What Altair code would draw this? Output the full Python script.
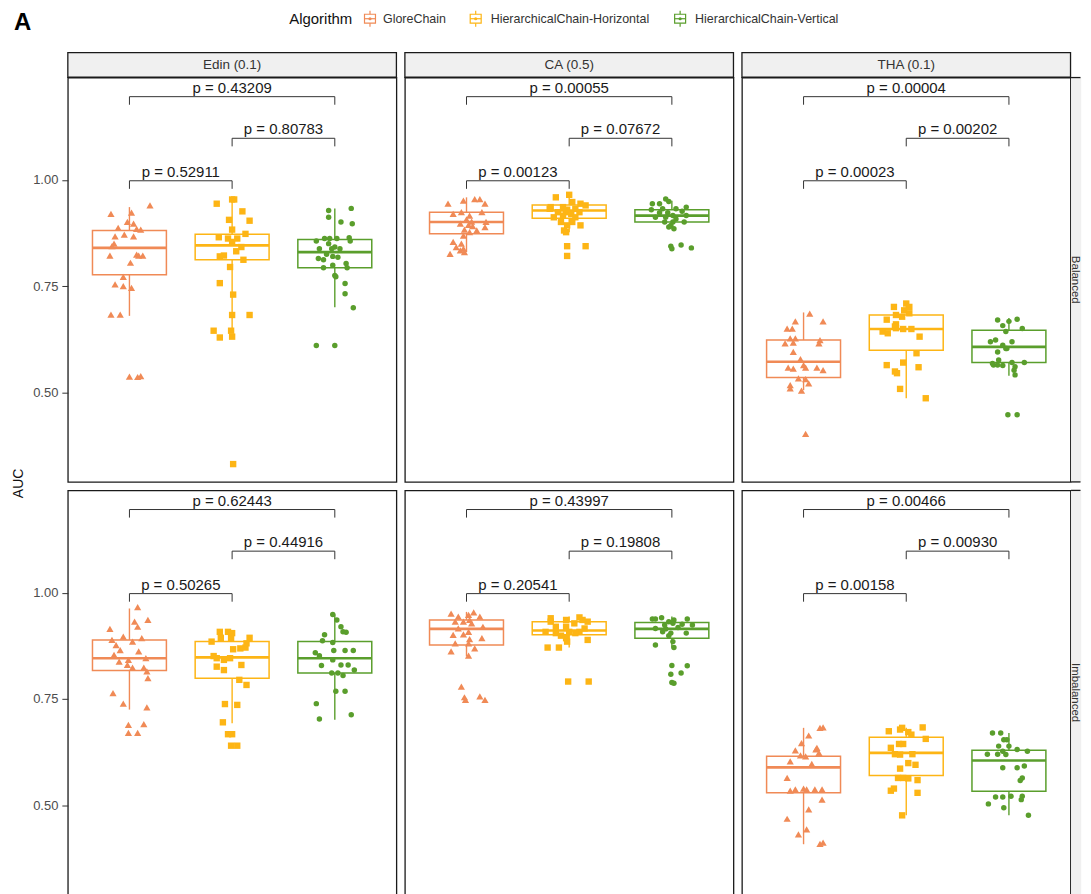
import altair as alt
import pandas as pd

ALGORITHMS = ["GloreChain", "HierarchicalChain-Horizontal", "HierarchicalChain-Vertical"]
DATASETS = ["Edin (0.1)", "CA (0.5)", "THA (0.1)"]
SETTINGS = ["Balanced", "Imbalanced"]
COLORS = ["#F08A56", "#FDB515", "#5A9E2C"]
SHAPES = ["triangle-up", "square", "circle"]
POSITIONS = [1, 2, 3]

# ---- AUC of each run and its horizontal jitter (category units)
EDIN_BAL_G = [0.920,0.923,0.940,0.901,0.897,0.887,0.871,0.885,0.883,0.867,0.867,0.844,0.850,0.822,0.824,0.822,0.822,0.805,0.772,0.754,0.750,0.746,0.683,0.683,0.537,0.536,0.538]
EDIN_BAL_G_JIT = [-0.18,0.02,0.20,-0.02,0.04,-0.11,-0.05,0.07,0.11,-0.14,0.04,-0.17,-0.15,-0.19,0.07,0.13,0.09,0.01,-0.06,-0.14,-0.06,0.02,-0.18,-0.09,0.00,0.08,0.11]
EDIN_BAL_H = [0.954,0.944,0.926,0.904,0.906,0.883,0.873,0.865,0.862,0.862,0.854,0.842,0.820,0.822,0.832,0.812,0.795,0.757,0.730,0.682,0.682,0.645,0.629,0.645,0.631,0.331,0.954]
EDIN_BAL_H_JIT = [0.00,-0.15,0.10,0.17,-0.03,0.00,0.13,-0.13,-0.04,0.05,0.00,0.09,-0.12,-0.08,0.04,0.11,-0.02,-0.12,0.01,0.00,0.17,-0.18,-0.12,-0.01,0.00,0.01,0.02]
EDIN_BAL_V = [0.928,0.912,0.933,0.901,0.897,0.856,0.862,0.862,0.862,0.864,0.856,0.850,0.842,0.838,0.838,0.838,0.825,0.815,0.812,0.820,0.818,0.799,0.803,0.793,0.793,0.775,0.772,0.756,0.732,0.699,0.610,0.610]
EDIN_BAL_V_JIT = [-0.06,-0.06,0.16,0.06,0.17,-0.18,-0.10,-0.05,0.02,0.14,0.15,-0.06,0.00,-0.03,-0.15,0.05,-0.08,-0.16,-0.11,-0.02,0.03,-0.02,0.11,-0.11,0.12,0.00,0.01,0.10,0.10,0.18,-0.18,0.00]

CA_BAL_G = [0.944,0.951,0.955,0.955,0.944,0.920,0.924,0.916,0.924,0.907,0.902,0.897,0.901,0.889,0.883,0.881,0.877,0.869,0.854,0.850,0.838,0.826,0.834,0.830,0.842,0.891,0.894]
CA_BAL_G_JIT = [-0.18,-0.03,0.08,0.13,0.18,-0.13,-0.05,0.03,0.15,0.00,0.05,-0.06,0.19,0.18,-0.02,0.10,0.03,-0.03,-0.13,-0.05,-0.03,-0.16,-0.06,-0.02,-0.10,0.06,0.02]
CA_BAL_H = [0.959,0.965,0.948,0.944,0.940,0.936,0.936,0.930,0.932,0.924,0.924,0.920,0.912,0.916,0.912,0.901,0.901,0.893,0.893,0.877,0.881,0.844,0.844,0.821,0.932,0.924]
CA_BAL_H_JIT = [-0.13,0.00,0.03,0.11,0.16,-0.18,-0.06,-0.02,0.06,-0.11,-0.03,0.02,-0.15,-0.06,0.06,-0.08,0.03,0.11,-0.02,-0.03,-0.05,-0.02,0.16,-0.02,-0.19,0.10]
CA_BAL_V = [0.944,0.944,0.955,0.949,0.930,0.932,0.932,0.936,0.923,0.923,0.926,0.912,0.912,0.916,0.916,0.901,0.901,0.901,0.908,0.893,0.885,0.889,0.844,0.847,0.840,0.838]
CA_BAL_V_JIT = [-0.19,-0.12,-0.06,-0.03,-0.20,-0.09,0.04,0.14,-0.12,-0.04,0.10,-0.16,-0.06,0.01,0.14,-0.07,0.01,0.12,0.04,-0.01,0.02,-0.03,-0.01,0.09,0.19,0.00]

THA_BAL_G = [0.685,0.667,0.667,0.650,0.650,0.627,0.627,0.615,0.617,0.623,0.615,0.595,0.578,0.558,0.556,0.558,0.564,0.558,0.552,0.533,0.531,0.521,0.517,0.509,0.504,0.402]
THA_BAL_G_JIT = [0.06,0.19,-0.08,-0.16,-0.11,-0.13,-0.08,-0.18,-0.10,0.16,0.15,-0.10,-0.03,-0.15,-0.10,0.02,0.00,0.13,0.19,-0.05,0.02,0.05,-0.13,-0.13,-0.02,0.02]
THA_BAL_H = [0.701,0.709,0.701,0.671,0.682,0.678,0.693,0.686,0.660,0.643,0.639,0.655,0.649,0.649,0.631,0.592,0.570,0.559,0.564,0.549,0.545,0.508,0.486,0.651]
THA_BAL_H_JIT = [-0.12,0.00,0.03,-0.19,-0.10,-0.04,-0.02,0.03,-0.10,-0.23,-0.18,-0.11,-0.03,0.05,0.13,0.10,-0.03,0.12,-0.19,-0.11,-0.09,-0.06,0.19,-0.10]
THA_BAL_V = [0.670,0.667,0.672,0.657,0.650,0.643,0.619,0.623,0.611,0.619,0.603,0.595,0.603,0.570,0.564,0.563,0.570,0.560,0.552,0.564,0.568,0.541,0.447,0.447,0.576]
THA_BAL_V_JIT = [-0.11,0.00,0.08,-0.06,0.13,-0.03,-0.18,-0.13,-0.06,0.03,-0.02,-0.11,-0.03,0.15,-0.15,-0.06,0.03,0.06,0.05,-0.11,-0.16,0.06,-0.01,0.08,-0.10]

EDIN_IMB_G = [0.966,0.932,0.936,0.920,0.915,0.889,0.897,0.885,0.893,0.877,0.865,0.862,0.854,0.846,0.842,0.838,0.830,0.824,0.824,0.815,0.799,0.764,0.739,0.730,0.691,0.689,0.670,0.670]
EDIN_IMB_G_JIT = [0.08,0.05,0.18,0.08,-0.19,-0.17,-0.06,0.03,0.12,-0.13,-0.09,0.09,-0.15,0.16,-0.01,-0.10,-0.02,0.03,0.14,0.17,0.18,-0.16,-0.06,0.17,0.14,-0.01,-0.01,0.08]
EDIN_IMB_H = [0.908,0.908,0.905,0.885,0.894,0.893,0.894,0.867,0.869,0.871,0.881,0.851,0.846,0.842,0.846,0.830,0.826,0.818,0.795,0.783,0.738,0.736,0.695,0.667,0.667,0.640,0.640]
EDIN_IMB_H_JIT = [-0.12,-0.04,0.00,-0.20,-0.11,-0.01,0.17,0.01,0.08,0.13,0.14,-0.18,-0.15,-0.08,-0.02,0.09,-0.15,-0.08,0.07,0.14,-0.07,0.05,-0.09,-0.04,0.00,-0.01,0.05]
EDIN_IMB_V = [0.949,0.936,0.920,0.908,0.907,0.901,0.887,0.883,0.859,0.852,0.864,0.864,0.864,0.842,0.829,0.830,0.830,0.818,0.811,0.811,0.805,0.768,0.768,0.739,0.713,0.703]
EDIN_IMB_V_JIT = [-0.02,0.02,0.06,0.08,0.11,-0.10,-0.12,-0.02,-0.19,-0.15,-0.01,0.10,0.18,-0.02,-0.13,0.06,0.13,0.19,-0.03,0.03,0.08,0.01,0.10,-0.18,0.16,-0.15]

CA_IMB_G = [0.951,0.944,0.948,0.954,0.944,0.932,0.932,0.936,0.920,0.916,0.908,0.901,0.902,0.891,0.893,0.881,0.881,0.869,0.862,0.852,0.779,0.754,0.748,0.756,0.748,0.928]
CA_IMB_G_JIT = [-0.15,-0.08,0.02,0.07,0.13,-0.11,-0.03,0.03,0.16,-0.08,0.02,-0.13,-0.03,0.03,0.15,-0.11,0.02,0.08,-0.15,0.02,-0.05,-0.02,-0.01,0.13,0.18,0.05]
CA_IMB_H = [0.940,0.936,0.942,0.936,0.932,0.920,0.920,0.928,0.916,0.908,0.905,0.908,0.908,0.899,0.893,0.889,0.871,0.871,0.885,0.905,0.791,0.791,0.932]
CA_IMB_H_JIT = [-0.18,-0.03,0.10,0.13,0.18,-0.13,-0.03,0.05,0.15,-0.23,-0.13,0.00,0.10,-0.08,-0.03,0.18,-0.21,-0.10,-0.02,0.06,-0.01,0.19,-0.18]
CA_IMB_V = [0.938,0.938,0.941,0.932,0.936,0.938,0.924,0.928,0.926,0.916,0.915,0.918,0.924,0.908,0.905,0.905,0.899,0.877,0.885,0.871,0.829,0.828,0.811,0.808,0.789,0.787]
CA_IMB_V_JIT = [-0.19,-0.16,-0.10,-0.03,0.02,0.15,-0.07,0.01,0.10,-0.16,-0.06,0.06,0.20,-0.09,-0.01,0.14,-0.03,-0.16,0.01,0.02,0.00,0.15,0.09,-0.01,0.00,0.02]

THA_IMB_G = [0.682,0.683,0.664,0.646,0.629,0.631,0.623,0.617,0.615,0.603,0.597,0.564,0.534,0.537,0.539,0.537,0.537,0.537,0.513,0.490,0.468,0.443,0.431,0.409,0.412,0.635]
THA_IMB_G_JIT = [0.16,0.19,0.05,-0.02,-0.08,0.12,0.15,-0.03,0.02,-0.13,0.08,-0.16,-0.13,-0.08,0.00,0.03,0.11,0.18,0.18,0.05,-0.16,0.03,-0.05,0.16,0.19,0.13]
THA_IMB_H = [0.674,0.678,0.682,0.672,0.666,0.683,0.656,0.644,0.644,0.635,0.620,0.619,0.620,0.599,0.595,0.586,0.564,0.564,0.563,0.559,0.534,0.539,0.529,0.476]
THA_IMB_H_JIT = [-0.17,-0.06,-0.04,0.02,0.05,0.16,0.19,-0.07,-0.03,-0.15,-0.11,-0.06,0.06,0.02,0.09,-0.06,-0.03,-0.08,0.02,0.11,-0.15,-0.12,0.11,-0.04]
THA_IMB_V = [0.670,0.670,0.654,0.654,0.639,0.639,0.627,0.631,0.627,0.620,0.619,0.620,0.588,0.588,0.592,0.564,0.558,0.519,0.519,0.521,0.521,0.513,0.503,0.494,0.476]
THA_IMB_V_JIT = [-0.16,-0.08,-0.05,-0.02,-0.10,0.00,-0.06,0.08,0.18,-0.11,-0.03,-0.21,-0.06,0.08,0.15,0.13,0.11,-0.13,-0.06,0.02,0.13,0.12,-0.20,-0.05,0.19]

# ---- box statistics, order: setting x dataset x algorithm
BOX_LOWER  = [0.680,0.642,0.700, 0.830,0.877,0.885, 0.505,0.486,0.539, 0.725,0.693,0.701, 0.850,0.871,0.871, 0.408,0.476,0.476]
BOX_Q1     = [0.777,0.812,0.793, 0.873,0.910,0.901, 0.535,0.599,0.570, 0.817,0.799,0.811, 0.877,0.901,0.893, 0.529,0.570,0.533]
BOX_MEDIAN = [0.840,0.846,0.830, 0.901,0.928,0.916, 0.572,0.649,0.607, 0.846,0.848,0.846, 0.915,0.911,0.915, 0.589,0.623,0.605]
BOX_Q3     = [0.881,0.872,0.860, 0.924,0.941,0.930, 0.623,0.682,0.646, 0.889,0.885,0.885, 0.936,0.932,0.930, 0.615,0.660,0.629]
BOX_UPPER  = [0.936,0.955,0.933, 0.959,0.965,0.951, 0.688,0.705,0.675, 0.963,0.908,0.949, 0.955,0.944,0.944, 0.682,0.682,0.670]

# ---- pairwise comparisons: (first, second, bracket height); p labels ordered setting x dataset x comparison
COMPARISONS = [(1, 3, 1.196), (2, 3, 1.098), (1, 2, 0.998)]
P_VALUES = ["p = 0.43209", "p = 0.80783", "p = 0.52911",
            "p = 0.00055", "p = 0.07672", "p = 0.00123",
            "p = 0.00004", "p = 0.00202", "p = 0.00023",
            "p = 0.62443", "p = 0.44916", "p = 0.50265",
            "p = 0.43997", "p = 0.19808", "p = 0.20541",
            "p = 0.00466", "p = 0.00930", "p = 0.00158"]

SERIES = {
    ("Balanced", "Edin (0.1)"): [(EDIN_BAL_G, EDIN_BAL_G_JIT), (EDIN_BAL_H, EDIN_BAL_H_JIT), (EDIN_BAL_V, EDIN_BAL_V_JIT)],
    ("Balanced", "CA (0.5)"): [(CA_BAL_G, CA_BAL_G_JIT), (CA_BAL_H, CA_BAL_H_JIT), (CA_BAL_V, CA_BAL_V_JIT)],
    ("Balanced", "THA (0.1)"): [(THA_BAL_G, THA_BAL_G_JIT), (THA_BAL_H, THA_BAL_H_JIT), (THA_BAL_V, THA_BAL_V_JIT)],
    ("Imbalanced", "Edin (0.1)"): [(EDIN_IMB_G, EDIN_IMB_G_JIT), (EDIN_IMB_H, EDIN_IMB_H_JIT), (EDIN_IMB_V, EDIN_IMB_V_JIT)],
    ("Imbalanced", "CA (0.5)"): [(CA_IMB_G, CA_IMB_G_JIT), (CA_IMB_H, CA_IMB_H_JIT), (CA_IMB_V, CA_IMB_V_JIT)],
    ("Imbalanced", "THA (0.1)"): [(THA_IMB_G, THA_IMB_G_JIT), (THA_IMB_H, THA_IMB_H_JIT), (THA_IMB_V, THA_IMB_V_JIT)],
}

# ---- legend / panel-tag placement (pixels, relative to the first strip's top-left corner)
TAG_X, TAG_Y = -54, -42
LEGEND_TITLE_X = 222
LEGEND_GLYPH_X = [303, 409, 614]
LEGEND_LABEL_X = [316, 424, 629]
LEGEND_Y = -34

# ---- tables
pt_rows, box_rows, br_rows = [], [], []
i = 0
for si, st in enumerate(SETTINGS):
    for di, ds in enumerate(DATASETS):
        for ai, algo in enumerate(ALGORITHMS):
            vals, jit = SERIES[(st, ds)][ai]
            for v, j in zip(vals, jit):
                pt_rows.append(dict(setting=st, dataset=ds, algo=algo, pos=POSITIONS[ai], auc=v, jit=j))
            box_rows.append(dict(setting=st, dataset=ds, algo=algo, pos=POSITIONS[ai],
                                 lo=BOX_LOWER[i], q1=BOX_Q1[i], med=BOX_MEDIAN[i], q3=BOX_Q3[i], hi=BOX_UPPER[i]))
            i += 1
        for ci, (a, b, h) in enumerate(COMPARISONS):
            br_rows.append(dict(setting=st, dataset=ds, x1=a, x2=b, y=h,
                                label=P_VALUES[(si * 3 + di) * 3 + ci]))
points = pd.DataFrame(pt_rows)
boxes = pd.DataFrame(box_rows)
brackets = pd.DataFrame(br_rows)
legend_df = pd.DataFrame({"algo": ALGORITHMS, "gx": LEGEND_GLYPH_X, "lx": LEGEND_LABEL_X})

# ---- layout / style
W, H = 329.5, 405.5
STRIP = 16.7      # strip cell height (strip drawn 8px taller, over the spacing)
SIDE = 1.5
GAP = 8
HALF = 0.36       # half box width in category units
TICK = 0.019      # bracket tick length
FONT = "Liberation Sans"
INK = "#333333"
STRIP_FILL = "#F0F0F0"
BORDER = "#1A1A1A"

XS = alt.Scale(domain=[0.4, 3.6], nice=False, zero=False)
YS = alt.Scale(domain=[0.289, 1.241], nice=False, zero=False)
CS = alt.Scale(domain=ALGORITHMS, range=COLORS)
COL = alt.Color("algo:N", scale=CS, legend=None)


def panel(si, di):
    st, ds = SETTINGS[si], DATASETS[di]
    b = boxes[(boxes.setting == st) & (boxes.dataset == ds)]
    p = points[(points.setting == st) & (points.dataset == ds)]
    k = brackets[(brackets.setting == st) & (brackets.dataset == ds)]

    if di == 0:
        if si == 0:
            yax = alt.Axis(values=[0.5, 0.75, 1.0], format=".2f", title="AUC",
                           titleX=-42, titleY=H + 1, titleFontSize=14,
                           titleFontWeight="normal", titleColor="#111111", titleFont=FONT)
        else:
            yax = alt.Axis(values=[0.5, 0.75, 1.0], format=".2f", title="")
    else:
        yax = None
    if si == 1:
        xax = alt.Axis(values=POSITIONS, title="", labels=False)
    else:
        xax = None

    def X(f):
        return alt.X(f, type="quantitative", scale=XS, axis=xax)

    def Y(f):
        return alt.Y(f, type="quantitative", scale=YS, axis=yax)

    bb = alt.Chart(b).transform_calculate(xl=f"datum.pos - {HALF}", xr=f"datum.pos + {HALF}")
    whisk_lo = bb.mark_rule(strokeWidth=1.4).encode(x=X("pos"), y=Y("lo"), y2="q1:Q", color=COL)
    whisk_hi = bb.mark_rule(strokeWidth=1.4).encode(x=X("pos"), y=Y("q3"), y2="hi:Q", color=COL)
    box = bb.mark_rect(filled=False, strokeWidth=1.5).encode(
        x=X("xl"), x2="xr:Q", y=Y("q1"), y2="q3:Q", color=COL)
    med = bb.mark_rule(strokeWidth=2.6).encode(x=X("xl"), x2="xr:Q", y=Y("med"), color=COL)

    pts = alt.Chart(p).transform_calculate(px="datum.pos + datum.jit").mark_point(
        filled=True, opacity=1).encode(
        x=X("px"), y=Y("auc"), color=COL,
        shape=alt.Shape("algo:N", scale=alt.Scale(domain=ALGORITHMS, range=SHAPES), legend=None),
        size=alt.Size("algo:N", scale=alt.Scale(domain=ALGORITHMS, range=[52, 30, 28]), legend=None))

    kb = alt.Chart(k).transform_calculate(yt=f"datum.y - {TICK}", xm="(datum.x1 + datum.x2) / 2")
    hline = kb.mark_rule(color=INK, strokeWidth=1).encode(x=X("x1"), x2="x2:Q", y=Y("y"))
    ltick = kb.mark_rule(color=INK, strokeWidth=1).encode(x=X("x1"), y=Y("y"), y2="yt:Q")
    rtick = kb.mark_rule(color=INK, strokeWidth=1).encode(x=X("x2"), y=Y("y"), y2="yt:Q")
    txt = kb.mark_text(fontSize=15, font=FONT, color="#1A1A1A", baseline="bottom", dy=-1).encode(
        x=X("xm"), y=Y("y"), text="label:N")

    return alt.layer(whisk_lo, whisk_hi, box, med, pts, hline, ltick, rtick, txt).properties(
        width=W, height=H, view=alt.ViewBackground(stroke=BORDER, strokeWidth=1.3))


def legend_layers():
    def PX(f):
        return alt.X(f, type="quantitative", scale=None, axis=None)
    lb = alt.Chart(legend_df).transform_calculate(g0="datum.gx - 5.5", g1="datum.gx + 5.5")
    ty = LEGEND_Y
    box = lb.mark_rect(filled=False, strokeWidth=1.2).encode(
        x=PX("g0"), x2="g1:Q", y=alt.value(ty - 4.5), y2=alt.value(ty + 4.5), color=COL)
    mid = lb.mark_rule(strokeWidth=1.2).encode(
        x=PX("g0"), x2="g1:Q", y=alt.value(ty), color=COL)
    wt = lb.mark_rule(strokeWidth=1.2).encode(
        x=PX("gx"), y=alt.value(ty - 8), y2=alt.value(ty - 4.5), color=COL)
    wb = lb.mark_rule(strokeWidth=1.2).encode(
        x=PX("gx"), y=alt.value(ty + 4.5), y2=alt.value(ty + 8), color=COL)
    dot = lb.mark_point(filled=True, size=10, opacity=1, shape="circle").encode(
        x=PX("gx"), y=alt.value(ty), color=COL)
    lab = lb.mark_text(fontSize=12.5, font=FONT, color=INK, align="left", baseline="middle").encode(
        x=PX("lx"), y=alt.value(ty), text="algo:N")
    ttl = alt.Chart(pd.DataFrame({"t": ["Algorithm"]})).mark_text(
        fontSize=15, font=FONT, color="#111111", align="left", baseline="middle").encode(
        x=alt.value(LEGEND_TITLE_X), y=alt.value(ty), text="t:N")
    tag = alt.Chart(pd.DataFrame({"t": ["A"]})).mark_text(
        fontSize=24, font=FONT, fontWeight="bold", color="black", align="left",
        baseline="top").encode(x=alt.value(TAG_X), y=alt.value(TAG_Y), text="t:N")
    return [box, mid, wt, wb, dot, lab, ttl, tag]


def top_strip(label, first):
    base = alt.Chart(pd.DataFrame({"label": [label]}))
    rect = base.mark_rect(fill=STRIP_FILL, stroke=BORDER, strokeWidth=1.3).encode(
        x=alt.value(0), x2=alt.value(W), y=alt.value(0), y2=alt.value(STRIP + GAP))
    txt = base.mark_text(fontSize=13.5, font=FONT, color=INK).encode(
        x=alt.value(W / 2), y=alt.value((STRIP + GAP) / 2), text="label:N")
    layers = [rect, txt] + (legend_layers() if first else [])
    return alt.layer(*layers).properties(width=W, height=STRIP,
                                         view=alt.ViewBackground(stroke="transparent"))


def side_strip(label):
    # the strip runs off the right edge of the figure: fill plus top/bottom borders only
    base = alt.Chart(pd.DataFrame({"label": [label]}))
    rect = base.mark_rect(fill=STRIP_FILL, strokeWidth=0).encode(
        x=alt.value(-GAP), x2=alt.value(SIDE + 0.7), y=alt.value(0), y2=alt.value(H))
    top = base.mark_rule(color=BORDER, strokeWidth=1.3).encode(
        x=alt.value(-GAP), x2=alt.value(SIDE), y=alt.value(0))
    bot = base.mark_rule(color=BORDER, strokeWidth=1.3).encode(
        x=alt.value(-GAP), x2=alt.value(SIDE), y=alt.value(H))
    txt = base.mark_text(fontSize=11.5, font=FONT, color=INK, angle=90).encode(
        x=alt.value(-3.8), y=alt.value(H / 2), text="label:N")
    return alt.layer(rect, top, bot, txt).properties(width=SIDE, height=H,
                                                     view=alt.ViewBackground(stroke="transparent"))


corner = alt.Chart(pd.DataFrame({"v": [0]})).mark_point(opacity=0).encode(
    x=alt.value(0), y=alt.value(0)).properties(width=SIDE, height=STRIP,
                                               view=alt.ViewBackground(stroke="transparent"))

cells = [top_strip(DATASETS[0], True), top_strip(DATASETS[1], False), top_strip(DATASETS[2], False), corner]
for si in range(2):
    cells += [panel(si, 0), panel(si, 1), panel(si, 2), side_strip(SETTINGS[si])]

chart = alt.concat(*cells, columns=4, spacing=GAP, bounds="flush").resolve_scale(
    x="independent", y="independent", color="shared", shape="shared", size="shared"
).properties(
    padding={"left": 3, "top": -0.5, "right": 0, "bottom": 0}
).configure(font=FONT).configure_axis(
    grid=False, domain=False, labelFontSize=13, labelColor="#4D4D4D", labelFont=FONT,
    tickColor=INK, tickSize=6, labelPadding=4
)

chart.save("out.html", embed_options={"renderer": "svg", "actions": False})
